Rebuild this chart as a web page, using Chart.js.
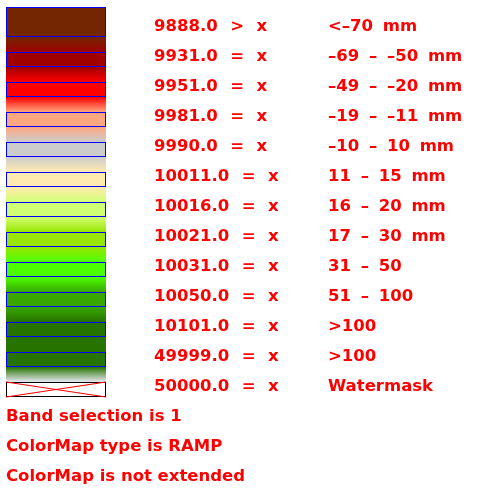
<!DOCTYPE html>
<html>
<head>
<meta charset="utf-8">
<style>
  html, body { margin: 0; padding: 0; background: #fff; }
  canvas { display: block; }
</style>
<script src="https://cdn.jsdelivr.net/npm/chart.js@4/dist/chart.umd.js"></script>
</head>
<body>
<canvas id="legend" width="492" height="500"></canvas>
<script>
const quantities = ["9888.0", "9931.0", "9951.0", "9981.0", "9990.0", "10011.0", "10016.0", "10021.0", "10031.0", "10050.0", "10101.0", "49999.0", "50000.0"];
const relations = [">", "=", "=", "=", "=", "=", "=", "=", "=", "=", "=", "=", "="];
const classLabels = ["<–70 mm", "–69 – –50 mm", "–49 – –20 mm", "–19 – –11 mm", "–10 – 10 mm", "11 – 15 mm", "16 – 20 mm", "17 – 30 mm", "31 – 50", "51 – 100", ">100", ">100", "Watermask"];
const rampColors = ["#732600", "#a00000", "#ff0000", "#ffa77f", "#cccccc", "#ffebaf", "#d1ff73", "#98e600", "#4cff00", "#38a800", "#267300", "#267300", "#e8e8f4"];
const footerLines = ["Band selection is 1", "ColorMap type is RAMP", "ColorMap is not extended"];

const ROW = 30;           // px between legend rows
const LEFT = 6;           // swatch left edge
const WIDTH = 100;        // swatch width
const HALF = 7.5 / ROW;   // half a swatch, in rows
const FIRST_EXTRA = 15 / ROW; // first swatch is taller
const last = quantities.length - 1;
const midX = LEFT + WIDTH / 2;

function rampFill(i) {
  return (c) => {
    const y = c.chart.scales.y;
    const top = y ? y.getPixelForValue(i + HALF) : NaN;
    const bottom = y ? y.getPixelForValue(i + 1 - HALF) : NaN;
    // scales are not laid out on the very first resolve
    if (!isFinite(top) || !isFinite(bottom)) return rampColors[i];
    const g = c.chart.ctx.createLinearGradient(0, top, 0, bottom);
    g.addColorStop(0, rampColors[i]);
    g.addColorStop(1, rampColors[i + 1]);
    return g;
  };
}

function bar(from, to, opts) {
  return Object.assign({ type: "bar", data: [{ x: midX, y: [from, to] }], barThickness: WIDTH, grouped: false, borderSkipped: false, inflateAmount: 0 }, opts);
}

const datasets = [];

// crossed out watermask swatch
[[-HALF, HALF], [HALF, -HALF]].forEach(([a, b]) => {
  datasets.push({
    type: "line",
    data: [{ x: LEFT, y: last + a }, { x: LEFT + WIDTH, y: last + b }],
    borderColor: "#ff0000",
    borderWidth: 1.2,
    pointRadius: 0,
  });
});

quantities.forEach((q, i) => {
  const watermask = i === last;
  datasets.push(bar(i - HALF - (i === 0 ? FIRST_EXTRA : 0), i + HALF, {
    backgroundColor: watermask ? "#ffffff" : rampColors[i],
    borderColor: watermask ? "#000000" : "#0000ff",
    borderWidth: 1,
  }));
  if (i < last) datasets.push(bar(i + HALF, i + 1 - HALF, { backgroundColor: rampFill(i), borderWidth: 0 }));
});

const textPlugin = {
  id: "legendText",
  afterDraw(chart) {
    const { ctx, scales } = chart;
    const rowY = (i) => scales.y.getPixelForValue(i) - 3;
    ctx.save();
    ctx.font = 'bold 16.5px "DejaVu Sans"';
    ctx.fillStyle = "#ff0000";
    ctx.textBaseline = "middle";
    ctx.textAlign = "left";
    quantities.forEach((q, i) => {
      ctx.wordSpacing = "0.5px";
      ctx.fillText(`${q}  ${relations[i]}  x`, scales.x.getPixelForValue(154), rowY(i));
      ctx.wordSpacing = "4px";
      ctx.fillText(classLabels[i], scales.x.getPixelForValue(328), rowY(i));
    });
    ctx.wordSpacing = "0px";
    footerLines.forEach((t, i) => {
      ctx.fillText(t, scales.x.getPixelForValue(LEFT), rowY(quantities.length + i));
    });
    ctx.restore();
  },
};

new Chart(document.getElementById("legend"), {
  data: { datasets },
  plugins: [textPlugin],
  options: {
    responsive: false,
    animation: false,
    devicePixelRatio: 1,
    layout: { padding: 0 },
    plugins: { legend: { display: false }, tooltip: { enabled: false } },
    scales: {
      x: { type: "linear", min: 0, max: 492, display: false, offset: false },
      y: { type: "linear", reverse: true, min: -59.5 / ROW + 1, max: (500 - 59.5) / ROW + 1, display: false },
    },
  },
});
</script>
</body>
</html>
